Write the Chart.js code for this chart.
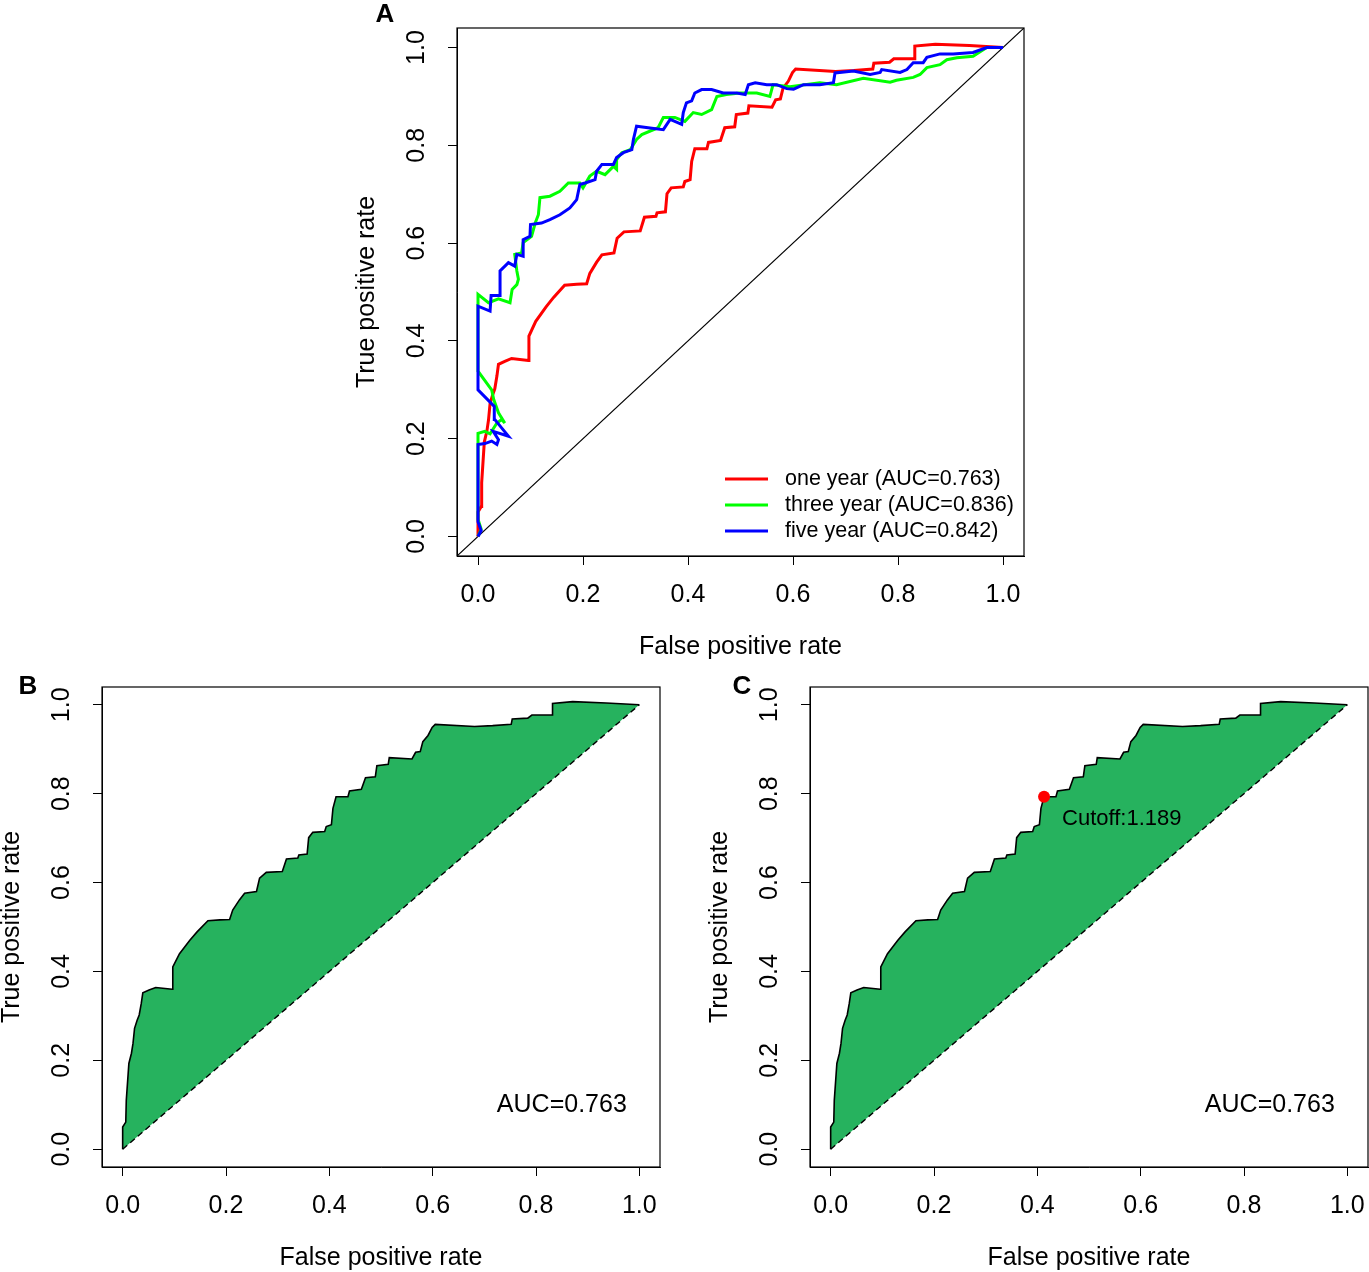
<!DOCTYPE html>
<html>
<head>
<meta charset="utf-8">
<script src="https://cdn.jsdelivr.net/npm/chart.js@4.4.1/dist/chart.umd.min.js"></script>
<style>
  html, body { margin: 0; background: #fff; overflow: hidden; }
  #wrap { position: relative; width: 1369px; height: 1272px; background: #fff; overflow: hidden; }
  canvas { position: absolute; }
</style>
</head>
<body>
<div id="wrap">
  <canvas id="chartA" style="left:330px;top:0px;"></canvas>
  <canvas id="chartB" style="left:0px;top:670px;"></canvas>
  <canvas id="chartC" style="left:690px;top:670px;"></canvas>
</div>
<script>
// one year ROC (also used for panels B and C)
var oneFpr = [0, 0, 0.006, 0.007, 0.012, 0.017, 0.02, 0.023, 0.028, 0.032, 0.036, 0.039, 0.051, 0.064, 0.096,
  0.097, 0.11, 0.13, 0.144, 0.165, 0.188, 0.207, 0.213, 0.226, 0.236, 0.259, 0.265, 0.278, 0.309, 0.317,
  0.339, 0.341, 0.357, 0.36, 0.368, 0.391, 0.394, 0.404, 0.407, 0.413, 0.436, 0.439, 0.462, 0.47, 0.489,
  0.492, 0.514, 0.516, 0.56, 0.567, 0.576, 0.581, 0.591, 0.599, 0.605, 0.681, 0.716, 0.752, 0.754, 0.784,
  0.792, 0.831, 0.832, 0.871, 0.936, 1.0];
var oneTpr = [0, 0.05, 0.061, 0.11, 0.193, 0.216, 0.238, 0.272, 0.29, 0.302, 0.328, 0.352, 0.358, 0.364, 0.36,
  0.41, 0.44, 0.47, 0.489, 0.514, 0.516, 0.517, 0.538, 0.561, 0.576, 0.58, 0.61, 0.623, 0.625, 0.653,
  0.655, 0.662, 0.664, 0.701, 0.713, 0.715, 0.726, 0.73, 0.767, 0.793, 0.793, 0.806, 0.81, 0.836, 0.838,
  0.863, 0.866, 0.881, 0.878, 0.893, 0.895, 0.917, 0.931, 0.949, 0.956, 0.951, 0.953, 0.956, 0.968, 0.97,
  0.977, 0.977, 1.003, 1.007, 1.004, 1.0];

// three year ROC
var threeFpr = [0, 0.006, 0, 0, 0.013, 0.023, 0.036, 0.045, 0.051, 0.039, 0.03, 0.026, 0, 0, 0.02, 0.039, 0.061,
  0.065, 0.074, 0.077, 0.074, 0.07, 0.083, 0.086, 0.102, 0.109, 0.115, 0.118, 0.137, 0.156, 0.172, 0.194,
  0.2, 0.213, 0.226, 0.242, 0.258, 0.264, 0.264, 0.274, 0.29, 0.302, 0.312, 0.343, 0.353, 0.375, 0.394,
  0.41, 0.426, 0.445, 0.455, 0.473, 0.499, 0.531, 0.556, 0.562, 0.594, 0.651, 0.683, 0.734, 0.785, 0.797,
  0.829, 0.842, 0.855, 0.88, 0.893, 0.912, 0.943, 0.969, 1.0];
var threeTpr = [0, 0.015, 0.035, 0.211, 0.215, 0.21, 0.232, 0.239, 0.232, 0.253, 0.28, 0.3, 0.338, 0.495, 0.478,
  0.486, 0.478, 0.505, 0.515, 0.526, 0.543, 0.577, 0.58, 0.601, 0.614, 0.641, 0.658, 0.693, 0.696, 0.706,
  0.723, 0.723, 0.713, 0.737, 0.747, 0.74, 0.757, 0.751, 0.771, 0.785, 0.791, 0.812, 0.822, 0.836, 0.857,
  0.857, 0.849, 0.867, 0.863, 0.873, 0.9, 0.904, 0.907, 0.907, 0.9, 0.924, 0.92, 0.928, 0.924, 0.937,
  0.929, 0.933, 0.939, 0.945, 0.959, 0.965, 0.975, 0.979, 0.982, 1.0, 1.0];

// five year ROC
var fiveFpr = [0, 0.006, 0, 0, 0.013, 0.026, 0.036, 0.039, 0.029, 0.058, 0.045, 0.032, 0.031, 0, 0, 0.023,
  0.025, 0.042, 0.042, 0.058, 0.07, 0.074, 0.086, 0.086, 0.099, 0.1, 0.121, 0.137, 0.156, 0.175, 0.188,
  0.194, 0.204, 0.223, 0.226, 0.236, 0.258, 0.264, 0.277, 0.293, 0.296, 0.302, 0.324, 0.353, 0.366, 0.388,
  0.391, 0.397, 0.407, 0.413, 0.426, 0.445, 0.467, 0.493, 0.509, 0.515, 0.528, 0.55, 0.569, 0.588, 0.601,
  0.62, 0.651, 0.677, 0.68, 0.715, 0.747, 0.766, 0.769, 0.804, 0.817, 0.829, 0.848, 0.855, 0.88, 0.905,
  0.943, 0.969, 1.0];
var fiveTpr = [0, 0.012, 0.03, 0.188, 0.19, 0.195, 0.188, 0.198, 0.215, 0.205, 0.222, 0.239, 0.266, 0.3, 0.471,
  0.461, 0.493, 0.493, 0.543, 0.56, 0.553, 0.577, 0.573, 0.607, 0.614, 0.638, 0.641, 0.648, 0.658, 0.672,
  0.689, 0.72, 0.723, 0.73, 0.747, 0.761, 0.761, 0.775, 0.785, 0.791, 0.812, 0.839, 0.836, 0.832, 0.853,
  0.843, 0.867, 0.887, 0.891, 0.907, 0.914, 0.914, 0.907, 0.907, 0.904, 0.924, 0.928, 0.924, 0.924, 0.916,
  0.915, 0.924, 0.924, 0.928, 0.948, 0.952, 0.945, 0.949, 0.955, 0.949, 0.955, 0.969, 0.969, 0.98, 0.987,
  0.987, 0.99, 1.0, 1.0];

var seriesNames = ["one year (AUC=0.763)", "three year (AUC=0.836)", "five year (AUC=0.842)"];
var seriesColors = ["#ff0000", "#00ff00", "#0000ff"];
var tickValues = [0, 0.2, 0.4, 0.6, 0.8, 1.0];
var cutoffPoint = [0.413, 0.793];
var cutoffLabel = "Cutoff:1.189";
var aucLabel = "AUC=0.763";

var FONT = "'Liberation Sans', Arial, Helvetica, sans-serif";
var AREA_GREEN = "#26b25e";

function pts(xs, ys) {
  return xs.map(function (x, i) { return { x: x, y: ys[i] }; });
}

function axisOpts(size, horizontal) {
  return {
    type: "linear",
    min: -0.04,
    max: 1.04,
    afterBuildTicks: function (s) { s.ticks = tickValues.map(function (v) { return { value: v }; }); },
    afterFit: function (s) { if (horizontal) s.height = size; else s.width = size; },
    grid: { drawOnChartArea: false, drawTicks: true, tickLength: 9, color: "#000", lineWidth: 1 },
    border: { display: true, color: "#000", width: 1 },
    ticks: { display: false }
  };
}

// draws the R-style box, tick labels, titles, panel letter and extra texts
var rDecor = {
  id: "rDecor",
  afterDraw: function (chart) {
    var o = chart.options.plugins.rDecor;
    var ctx = chart.ctx, a = chart.chartArea;
    var xs = chart.scales.x, ys = chart.scales.y;
    ctx.save();
    ctx.strokeStyle = "#000";
    ctx.lineWidth = 1.2;
    ctx.strokeRect(a.left, a.top, a.right - a.left, a.bottom - a.top);

    ctx.fillStyle = "#000";
    ctx.font = "25px " + FONT;
    ctx.textAlign = "center";
    ctx.textBaseline = "middle";
    tickValues.forEach(function (v) {
      ctx.fillText(v.toFixed(1), xs.getPixelForValue(v), a.bottom + 39);
      ctx.save();
      ctx.translate(a.left - 40, ys.getPixelForValue(v));
      ctx.rotate(-Math.PI / 2);
      ctx.fillText(v.toFixed(1), 0, 0);
      ctx.restore();
    });

    ctx.fillText("False positive rate", (a.left + a.right) / 2, a.bottom + 91);
    ctx.save();
    ctx.translate(a.left - 90, (a.top + a.bottom) / 2);
    ctx.rotate(-Math.PI / 2);
    ctx.fillText("True positive rate", 0, 0);
    ctx.restore();

    ctx.font = "bold 26px " + FONT;
    ctx.fillText(o.letter, a.left + o.letterDx, a.top + o.letterDy);

    if (o.auc) {
      ctx.font = "25px " + FONT;
      ctx.fillText(aucLabel, xs.getPixelForValue(0.85), ys.getPixelForValue(0.1));
    }
    if (o.cutoff) {
      ctx.font = "22px " + FONT;
      ctx.textAlign = "left";
      ctx.fillText(cutoffLabel, xs.getPixelForValue(cutoffPoint[0]) + 18, ys.getPixelForValue(cutoffPoint[1]) + 22);
    }
    if (o.legend) {
      ctx.font = "21.5px " + FONT;
      ctx.textAlign = "left";
      seriesNames.forEach(function (name, i) {
        var y = a.top + 451 + i * 26;
        ctx.strokeStyle = seriesColors[i];
        ctx.lineWidth = 3;
        ctx.beginPath();
        ctx.moveTo(a.left + 268, y);
        ctx.lineTo(a.left + 311, y);
        ctx.stroke();
        ctx.fillText(name, a.left + 328, y);
      });
    }
    ctx.restore();
  }
};

function lineSet(data, color, width, order, dash) {
  return {
    data: data,
    showLine: true,
    borderColor: color,
    borderWidth: width,
    borderDash: dash || [],
    pointRadius: 0,
    tension: 0,
    fill: false,
    order: order
  };
}

function makeChart(id, w, h, pad, yWidth, xHeight, datasets, decor) {
  var cv = document.getElementById(id);
  cv.width = w;
  cv.height = h;
  cv.style.width = w + "px";
  cv.style.height = h + "px";
  return new Chart(cv, {
    type: "scatter",
    data: { datasets: datasets },
    options: {
      responsive: false,
      animation: false,
      devicePixelRatio: 1,
      layout: { padding: pad },
      scales: { x: axisOpts(xHeight, true), y: axisOpts(yWidth, false) },
      plugins: { legend: { display: false }, tooltip: { enabled: false }, rDecor: decor }
    },
    plugins: [rDecor]
  });
}

// Panel A: three ROC curves
makeChart("chartA", 720, 680, { left: 0, right: 26, top: 28, bottom: 0 }, 127, 124, [
  lineSet(pts(fiveFpr, fiveTpr), seriesColors[2], 3, 0),
  lineSet(pts(threeFpr, threeTpr), seriesColors[1], 3, 1),
  lineSet(pts(oneFpr, oneTpr), seriesColors[0], 3, 2),
  lineSet([{ x: -0.04, y: -0.04 }, { x: 1.04, y: 1.04 }], "#000", 1.2, 3)
], { letter: "A", letterDx: -72, letterDy: -13, legend: true });

function areaSets(withCutoff) {
  var curve = pts(oneFpr, oneTpr);
  var shape = curve.concat([{ x: 1, y: 1 }, { x: 0, y: 0 }]);
  var sets = [
    lineSet(curve, "#000", 1.6, 1),
    lineSet([{ x: 0, y: 0 }, { x: 1, y: 1 }], "#000", 1.4, 2, [6, 4]),
    {
      data: shape, showLine: true, borderWidth: 0, borderColor: AREA_GREEN,
      backgroundColor: AREA_GREEN, fill: "shape", pointRadius: 0, tension: 0, order: 3
    }
  ];
  if (withCutoff) {
    sets.push({
      data: [{ x: cutoffPoint[0], y: cutoffPoint[1] }], showLine: false,
      pointRadius: 6, pointBackgroundColor: "#ff0000", pointBorderWidth: 0, order: 0
    });
  }
  return sets;
}

// Panel B: one-year ROC with shaded AUC
makeChart("chartB", 680, 602, { left: 0, right: 20, top: 17, bottom: 0 }, 102, 105,
  areaSets(false), { letter: "B", letterDx: -74, letterDy: 0, auc: true });

// Panel C: same with optimal cutoff point (canvas runs past the page edge, clipped)
makeChart("chartC", 700, 602, { left: 0, right: 22, top: 17, bottom: 0 }, 120, 105,
  areaSets(true), { letter: "C", letterDx: -68, letterDy: 0, auc: true, cutoff: true });
</script>
</body>
</html>
